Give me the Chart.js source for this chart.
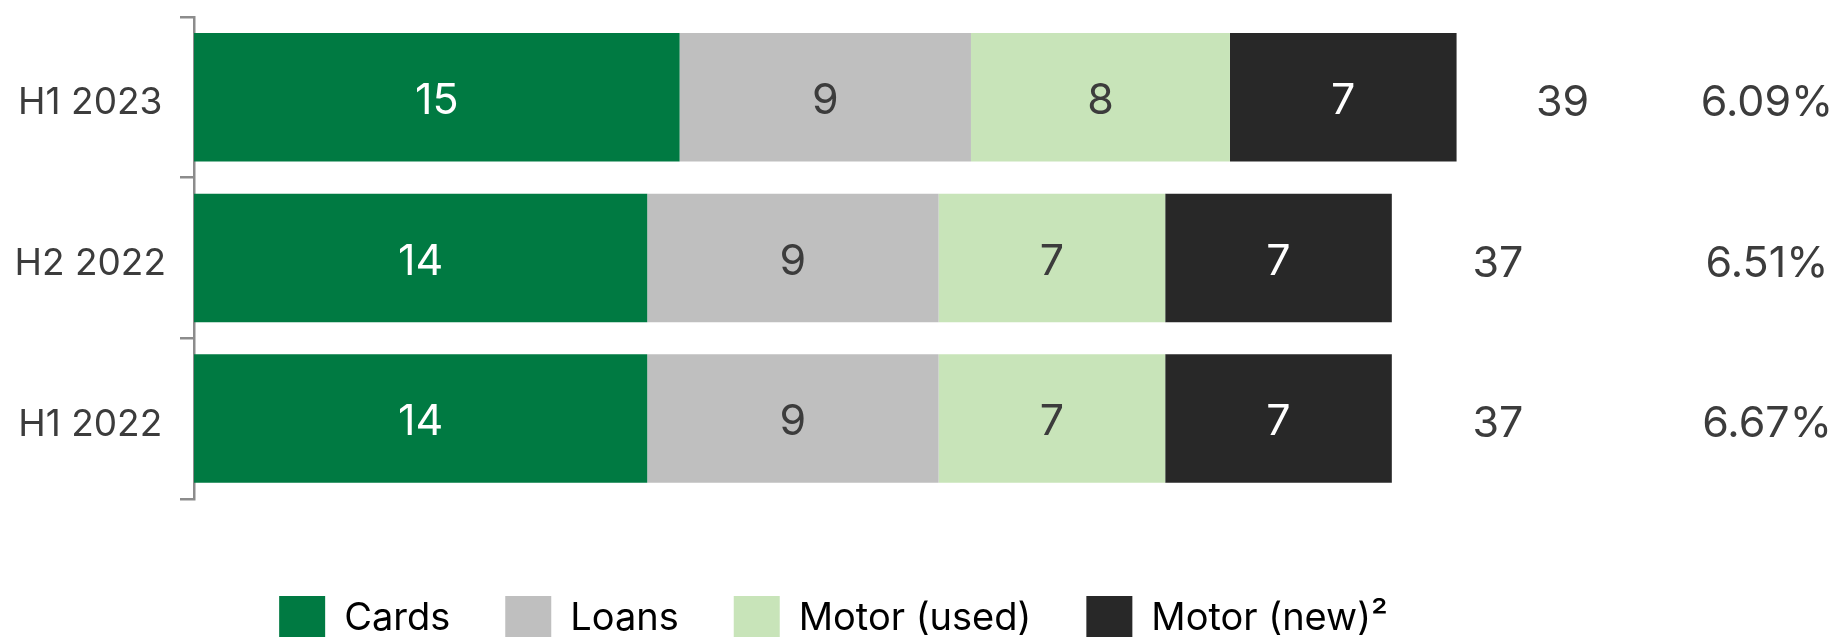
<!DOCTYPE html>
<html>
<head>
<meta charset="utf-8">
<script src="https://cdn.jsdelivr.net/npm/chart.js@4"></script>
<style>
  html, body { margin: 0; padding: 0; background: #fff; overflow: hidden; }
  #wrap { width: 1837px; height: 652px; }
</style>
</head>
<body>
<div id="wrap"><canvas id="mixChart" width="1837" height="652"></canvas></div>
<script>
const periods = ['H1 2023', 'H2 2022', 'H1 2022']
const cards = [15, 14, 14]
const loans = [9, 9, 9]
const motorUsed = [8, 7, 7]
const motorNew = [7, 7, 7]
const totals = [39, 37, 37]
const rates = ['6.09%', '6.51%', '6.67%']

const FONT = 'Inter, "Open Sans", sans-serif'
const TEXT = '#3c3c3c'

// numbers inside segments, totals after the bar, rate column at the right
const barLabels = {
    id: 'barLabels',
    afterDatasetsDraw(chart) {
        const ctx = chart.ctx
        const xScale = chart.scales.x
        ctx.save()
        ctx.textAlign = 'center'
        ctx.textBaseline = 'middle'
        ctx.font = '400 43px ' + FONT
        chart.data.datasets.forEach((ds, i) => {
            chart.getDatasetMeta(i).data.forEach((bar, j) => {
                ctx.fillStyle = ds.labelColor
                ctx.fillText(ds.data[j], (bar.x + bar.base) / 2, bar.y + 4)
            })
        })
        const meta = chart.getDatasetMeta(0)
        ctx.font = '400 43px ' + FONT
        ctx.fillStyle = TEXT
        totals.forEach((t, j) => {
            const y = meta.data[j].y + 6
            ctx.fillText(t, xScale.getPixelForValue(t) + 106, y)
            ctx.fillText(rates[j], chart.width - 70, y)
        })
        ctx.restore()
    }
}

new Chart(document.getElementById('mixChart'), {
    type: 'bar',
    data: {
        labels: periods,
        datasets: [
            { label: 'Cards', data: cards, backgroundColor: '#007a42', labelColor: '#ffffff' },
            { label: 'Loans', data: loans, backgroundColor: '#bfbfbf', labelColor: TEXT },
            { label: 'Motor (used)', data: motorUsed, backgroundColor: '#c8e4b9', labelColor: TEXT },
            { label: 'Motor (new)\u00b2', data: motorNew, backgroundColor: '#282828', labelColor: '#ffffff' }
        ]
    },
    options: {
        indexAxis: 'y',
        responsive: false,
        animation: false,
        categoryPercentage: 0.8,
        barPercentage: 1.0,
        layout: {
            padding: { top: 17, right: 170, left: 0, bottom: 0 }
        },
        scales: {
            x: {
                stacked: true,
                display: false,
                min: 0,
                max: 45.5
            },
            y: {
                stacked: true,
                afterFit: function (scale) {
                    scale.width = 194
                    scale.paddingTop = 0
                    scale.paddingBottom = 0
                },
                border: { display: true, color: '#8c8c8c', width: 2.5 },
                grid: {
                    offset: true,
                    drawOnChartArea: false,
                    drawTicks: true,
                    tickLength: 14,
                    color: '#8c8c8c',
                    lineWidth: 2.5
                },
                ticks: {
                    padding: 14,
                    crossAlign: 'center',
                    labelOffset: 6,
                    color: TEXT,
                    font: { family: FONT, size: 37 }
                }
            }
        },
        plugins: {
            legend: {
                display: true,
                position: 'bottom',
                title: {
                    display: true,
                    text: '',
                    font: { size: 1 },
                    padding: { top: 41, bottom: 0 }
                },
                labels: {
                    boxWidth: 46,
                    boxHeight: 46,
                    padding: 55,
                    color: '#000000',
                    font: { family: FONT, size: 38 }
                }
            },
            tooltip: { enabled: false }
        }
    },
    plugins: [barLabels]
})
</script>
</body>
</html>
